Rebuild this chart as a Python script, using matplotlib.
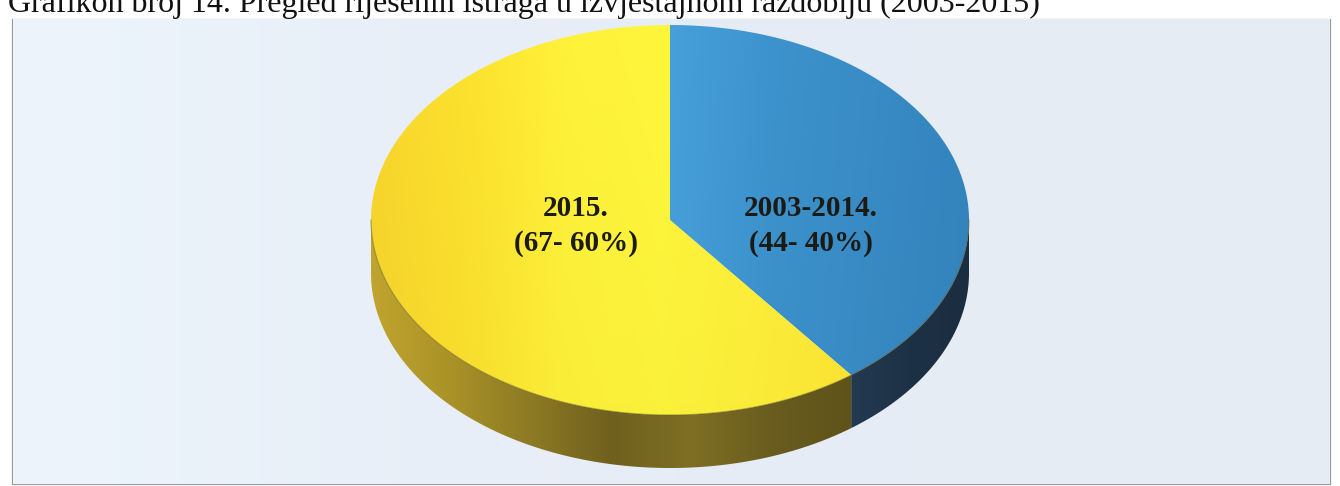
import numpy as np
import matplotlib
matplotlib.use("Agg")
import matplotlib.pyplot as plt
from matplotlib.patches import Polygon, Rectangle
from matplotlib.colors import LinearSegmentedColormap, to_rgb

# ---- data ----
categories = ["2003-2014.", "2015."]
counts = [44, 67]
percents = [40, 60]
title = "Grafikon broj 14. Pregled riješenih istraga u izvještajnom razdoblju (2003-2015)"

W, H = 1340, 486
fig = plt.figure(figsize=(W / 100, H / 100), dpi=100)
fig.patch.set_facecolor("white")
ax = fig.add_axes([0, 0, 1, 1])
ax.set_axis_off()

# frame / background
frame = Rectangle((13, 20), 1317, 464, facecolor="#e8eef6", edgecolor="#9c9c9c", lw=1.6, zorder=0)
ax.add_patch(frame)
bg = np.array([[to_rgb(c) for c in ["#edf4fb", "#e7eff8", "#e9eef7", "#e5ecf5", "#e7edf5", "#e6ecf4"]]])
ax.imshow(bg, extent=(13, 1330, 484, 20), aspect="auto", interpolation="bicubic", zorder=0.5,
          clip_path=frame, clip_on=True)

ax.text(8, 12, title, fontsize=23, family="Liberation Serif", color="#111111",
        ha="left", va="baseline", zorder=5)

# ---- 3D pie geometry ----
cx, cy, a, b, depth = 670, 220, 299, 195, 53


def pt(theta_deg, dy=0.0):
    t = np.radians(theta_deg)
    return cx + a * np.sin(t), cy - b * np.cos(t) + dy


total = sum(counts)
bounds = np.concatenate([[0], np.cumsum(counts)]) / total * 360.0

top_grad = {
    0: ["#47a0da", "#3d93cd", "#398cc6", "#3485bf"],
    1: ["#f8d62c", "#fde22f", "#fff23a", "#fff63c", "#fff03a", "#ffe733"],
}
side_grad = {
    0: ["#233a50", "#1d3146", "#1b2d40"],
    1: ["#c0a42e", "#aa9228", "#8c7a24", "#6f601f", "#7e6f24", "#6a5c1e", "#5f531b"],
}


def grad_fill(poly, colors, x0, x1, y0, y1, z, vertical_dark=0.0):
    cmap = LinearSegmentedColormap.from_list("g", colors)
    xs = np.linspace(0, 1, 256)
    row = cmap(xs)[:, :3]
    ny = 64
    img = np.repeat(row[None, :, :], ny, axis=0)
    if vertical_dark:
        f = 1 - vertical_dark * np.linspace(0, 1, ny)[:, None, None]
        img = img * f
    ax.add_patch(poly)
    im = ax.imshow(img, extent=(x0, x1, y1, y0), aspect="auto", interpolation="bilinear",
                   zorder=z)
    im.set_clip_path(poly)


# sides (front half: 90..270 deg)
for i in range(len(counts)):
    t0, t1 = max(bounds[i], 90), min(bounds[i + 1], 270)
    if t1 <= t0:
        continue
    th = np.linspace(t0, t1, 200)
    upper = [pt(t) for t in th]
    lower = [pt(t, depth) for t in th[::-1]]
    poly = Polygon(upper + lower, closed=True, facecolor="none", edgecolor="none", zorder=2)
    xs = [p[0] for p in upper]
    grad_fill(poly, side_grad[i], min(xs), max(xs),
              min(p[1] for p in upper), max(p[1] for p in lower), 2)

# top faces
for i in range(len(counts)):
    th = np.linspace(bounds[i], bounds[i + 1], 300)
    verts = [(cx, cy)] + [pt(t) for t in th]
    poly = Polygon(verts, closed=True, facecolor="none", edgecolor="none", zorder=3)
    if i == 0:
        x0, x1 = cx, cx + a
    else:
        x0, x1 = cx - a, cx + a * 0.62
    grad_fill(poly, top_grad[i], x0, x1, cy - b, cy + b, 3, vertical_dark=0.02)

# rim line on top face edge (front)
th = np.linspace(90, 270, 300)
rim = np.array([pt(t) for t in th])
ax.plot(rim[:, 0], rim[:, 1], color="#5d5c1c", lw=0.8, alpha=0.5, zorder=4)

# labels
label_pos = [(811, 226), (576, 226)]
for i, (x, y) in enumerate(label_pos):
    ax.text(x, y, f"{categories[i]}\n({counts[i]}- {percents[i]}%)", ha="center", va="center",
            fontsize=21, fontweight="bold", family="Liberation Serif", color="#1c1a14",
            linespacing=1.32, zorder=6)

ax.set_xlim(0, W)
ax.set_ylim(H, 0)
fig.savefig("out.png", dpi=100, facecolor="white")
